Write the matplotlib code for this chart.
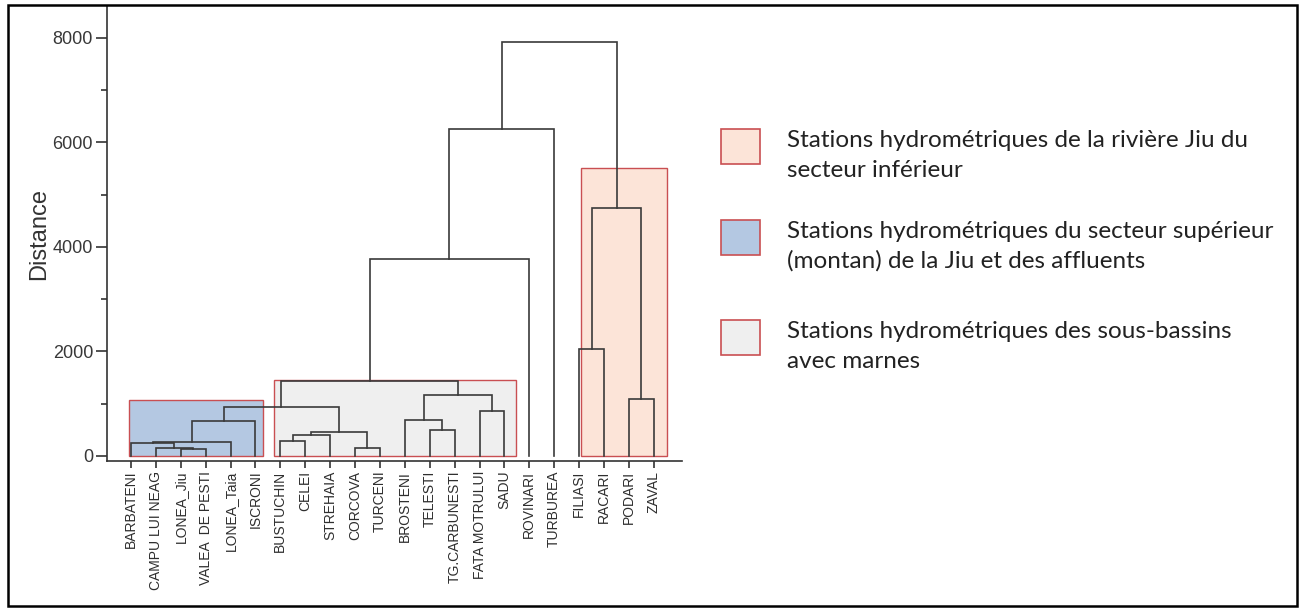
import matplotlib.pyplot as plt
from matplotlib.patches import Rectangle

# stations in dendrogram order
stations = ['BARBATENI', 'CAMPU LUI NEAG', 'LONEA_Jiu', 'VALEA  DE PESTI', 'LONEA_Taia',
            'ISCRONI', 'BUSTUCHIN', 'CELEI', 'STREHAIA', 'CORCOVA', 'TURCENI',
            'BROSTENI', 'TELESTI', 'TG.CARBUNESTI', 'FATA MOTRULUI', 'SADU',
            'ROVINARI', 'TURBUREA', 'FILIASI', 'RACARI', 'PODARI', 'ZAVAL']

# linkage: children < 22 are stations, 22+ are earlier merges (in order)
merge_left = [2, 1, 0, 24, 25, 6, 27, 9, 28, 26, 12, 11, 14, 33, 31, 36, 37, 18, 20, 39, 38]
merge_right = [3, 22, 23, 4, 5, 7, 8, 10, 29, 30, 13, 32, 15, 34, 35, 16, 17, 19, 21, 40, 41]
merge_dist = [135, 150, 242, 262, 664, 293, 402, 147, 465, 935,
              492, 695, 867, 1167, 1440, 3770, 6260, 2050, 1100, 4740, 7920]

# highlighted groups (leaf span and height of the boxes)
group_x0 = [-0.08, 5.74, 18.07]
group_x1 = [5.31, 15.45, 21.53]
group_top = [1072, 1455, 5506]
group_fill = ['#b4c8e2', '#efefef', '#fce4d8']

legend_text = [['Stations hydrométriques de la rivière Jiu du', 'secteur inférieur'],
               ['Stations hydrométriques du secteur supérieur', '(montan) de la Jiu et des affluents'],
               ['Stations hydrométriques des sous-bassins', 'avec marnes']]
legend_fill = ['#fce4d8', '#b4c8e2', '#efefef']

W, H = 1299, 610
fig = plt.figure(figsize=(W / 100, H / 100), dpi=100)
ax = fig.add_axes([107 / W, 1 - 461 / H, 575 / W, 455 / H])

# group boxes behind the tree
for x0, x1, top, fc in zip(group_x0, group_x1, group_top, group_fill):
    ax.add_patch(Rectangle((x0, 0), x1 - x0, top, facecolor=fc, edgecolor='#c94f52',
                           linewidth=1.0, zorder=1))

# dendrogram links
n = len(stations)
node_x = list(range(n))
node_h = [0] * n
for a, b, d in zip(merge_left, merge_right, merge_dist):
    xa, xb = node_x[a], node_x[b]
    ax.plot([xa, xa, xb, xb], [node_h[a], d, d, node_h[b]], color='#3a3a3a',
            linewidth=1.2, solid_joinstyle='miter', zorder=3)
    node_x.append((xa + xb) / 2)
    node_h.append(d)

ax.set_xlim(-0.96, 22.13)
ax.set_ylim(-96, 8612)
ax.spines['top'].set_visible(False)
ax.spines['right'].set_visible(False)
for s in ['left', 'bottom']:
    ax.spines[s].set_color('#333333')
    ax.spines[s].set_linewidth(1.2)

ax.set_xticks(range(n))
ax.set_xticklabels(stations, rotation=90, fontsize=10, family='Liberation Sans', color='#2e2e2e')
ax.set_yticks([0, 2000, 4000, 6000, 8000])
ax.set_yticks([1000, 3000, 5000, 7000], minor=True)
ax.set_yticklabels(['0', '2000', '4000', '6000', '8000'], fontsize=13,
                   family='Liberation Sans', color='#383838')
ax.tick_params(axis='x', length=5, width=1.2, color='#333333', pad=2)
ax.tick_params(axis='y', which='major', length=8, width=1.2, color='#333333', pad=2)
ax.tick_params(axis='y', which='minor', length=4, width=1.2, color='#333333')
ax.set_ylabel('Distance', fontsize=17, family='Liberation Sans', color='#333333', labelpad=2)

# legend drawn by hand at the right of the figure
patch_top = [129, 220, 320]
for lines, fc, top in zip(legend_text, legend_fill, patch_top):
    fig.add_artist(Rectangle((721 / W, 1 - (top + 35) / H), 39 / W, 35 / H,
                             transform=fig.transFigure, facecolor=fc,
                             edgecolor='#c94f52', linewidth=1.2))
    for k, line in enumerate(lines):
        base = top + 18 + k * 30
        fig.text(787 / W, 1 - base / H, line, fontsize=17.5, family='Lato',
                 color='#222222', va='baseline', ha='left')

# frame around the whole picture
fig.add_artist(Rectangle((8 / W, 4 / H), 1289 / W, 601 / H, transform=fig.transFigure,
                         facecolor='none', edgecolor='black', linewidth=1.8))

fig.savefig('out.png', dpi=100)
